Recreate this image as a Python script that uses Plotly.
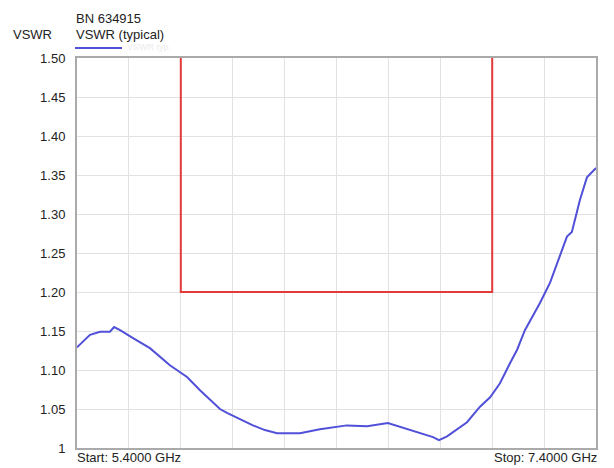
import plotly.graph_objects as go

freq_ghz = [5.400, 5.423, 5.450, 5.489, 5.527, 5.543, 5.566, 5.616, 5.681, 5.758, 5.824, 5.874, 5.913, 5.951,
            5.978, 6.028, 6.078, 6.124, 6.171, 6.259, 6.336, 6.440, 6.518, 6.598, 6.645, 6.722, 6.772, 6.795,
            6.826, 6.903, 6.953, 6.992, 7.030, 7.069, 7.096, 7.126, 7.184, 7.223, 7.261, 7.288, 7.307, 7.338,
            7.365, 7.385, 7.400]
vswr = [1.129, 1.136, 1.145, 1.149, 1.149, 1.155, 1.151, 1.141, 1.128, 1.106, 1.091, 1.074, 1.062, 1.050,
        1.045, 1.037, 1.029, 1.023, 1.019, 1.019, 1.024, 1.029, 1.028, 1.032, 1.027, 1.019, 1.014, 1.010,
        1.015, 1.033, 1.053, 1.065, 1.083, 1.109, 1.126, 1.151, 1.186, 1.212, 1.245, 1.271, 1.277, 1.318,
        1.347, 1.354, 1.359]

limit_f = [5.8, 5.8, 7.0, 7.0]
limit_v = [1.5, 1.2, 1.2, 1.5]

ytick_vals = [1.0, 1.05, 1.10, 1.15, 1.20, 1.25, 1.30, 1.35, 1.40, 1.45, 1.50]
ytick_text = ["1", "1.05", "1.10", "1.15", "1.20", "1.25", "1.30", "1.35", "1.40", "1.45", "1.50"]
xgrid = [5.4 + 0.2 * i for i in range(11)]

FONT = "Liberation Sans, Arial, sans-serif"
BLUE = "#5050d8"
FS = 13

# page offset of 8px (body margin) is compensated by the figure size/margins
PL, PT, PW, PH = 77, 58, 519, 390  # plot area in page pixels


def px(x):
    return (x - PL) / PW


def py(y):
    return 1 - (y - PT) / PH


fig = go.Figure()
fig.add_trace(go.Scatter(x=limit_f, y=limit_v, mode="lines",
                         line=dict(color="#e03a3a", width=2), showlegend=False, hoverinfo="skip"))
fig.add_trace(go.Scatter(x=freq_ghz, y=vswr, mode="lines",
                         line=dict(color=BLUE, width=2), showlegend=False))

fig.update_layout(
    width=606, height=460,
    margin=dict(l=69, r=18, t=50, b=20),
    plot_bgcolor="white", paper_bgcolor="white",
    font=dict(family=FONT, size=FS, color="#222"),
    xaxis=dict(range=[5.4, 7.4], tickvals=xgrid, showticklabels=False, showgrid=True,
               gridcolor="#e2e2e2", gridwidth=1, zeroline=False,
               showline=True, linecolor="#aaaaaa", linewidth=2, mirror=True, ticks=""),
    yaxis=dict(range=[1.0, 1.5], tickvals=ytick_vals, ticktext=ytick_text, showgrid=True,
               gridcolor="#e2e2e2", gridwidth=1, zeroline=False,
               showline=True, linecolor="#aaaaaa", linewidth=2, mirror=True, ticks="",
               tickfont=dict(size=FS, color="#222"), ticklabelstandoff=7),
)

annots = [
    ("VSWR", 11, 34, "left"),
    ("BN 634915", 74, 19, "left"),
    ("VSWR (typical)", 74, 34, "left"),
    ("Start: 5.4000 GHz", 75, 458, "left"),
    ("Stop: 7.4000 GHz", 599, 458, "right"),
]
for text, x, y, anchor in annots:
    fig.add_annotation(x=px(x), y=py(y), xref="paper", yref="paper", text=text,
                       showarrow=False, xanchor=anchor, yanchor="middle",
                       font=dict(size=FS, color="#222", family=FONT))

fig.add_shape(type="line", xref="paper", yref="paper",
              x0=px(75), x1=px(122), y0=py(48), y1=py(48),
              line=dict(color=BLUE, width=2))
fig.add_annotation(x=px(125), y=py(47), xref="paper", yref="paper",
                   text="VSWR typ.", showarrow=False, xanchor="left", yanchor="middle",
                   font=dict(size=9, color="#ececec", family=FONT))

fig.write_html("out.html")
